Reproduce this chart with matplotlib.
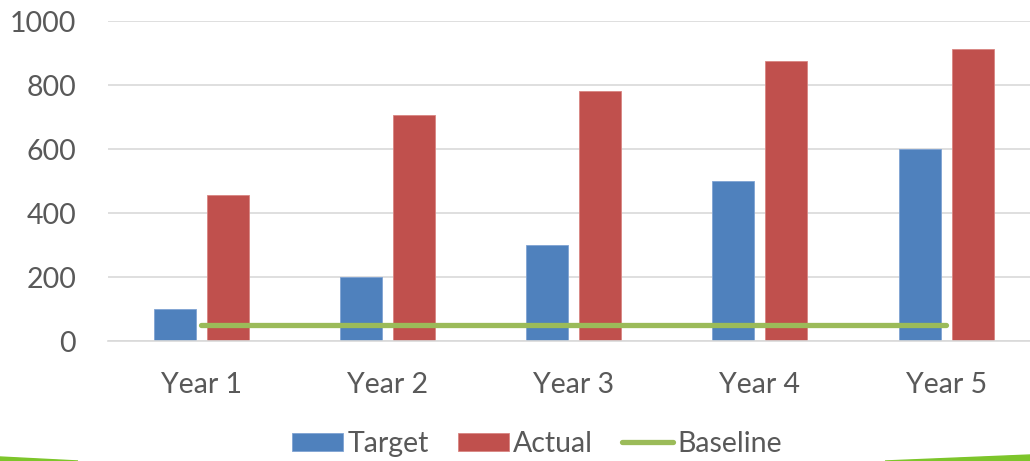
import matplotlib
matplotlib.use("Agg")
import matplotlib.pyplot as plt
import numpy as np
from matplotlib.patches import Polygon

categories = ["Year 1", "Year 2", "Year 3", "Year 4", "Year 5"]
target = [100, 200, 300, 500, 600]
actual = [455, 705, 780, 875, 913]
baseline = [50, 50, 50, 50, 50]
yticks = [0, 200, 400, 600, 800, 1000]

plt.rcParams['font.family'] = ['Lato', 'DejaVu Sans']
TXT = '#595959'

fig = plt.figure(figsize=(10.30, 4.61), dpi=100)
W, H = 1030, 461
left, right = 108, 108 + 5 * 186.25
top, bottom = 21, 341
ax = fig.add_axes([left / W, 1 - bottom / H, (right - left) / W, (bottom - top) / H])

x = np.arange(len(categories))
bw = 0.2255
b1 = ax.bar(x - 0.142, target, width=bw, color='#4F81BD', edgecolor='#7FA3D3', linewidth=0.6, label='Target', zorder=2)
b2 = ax.bar(x + 0.142, actual, width=bw, color='#C0504D', edgecolor='#D98582', linewidth=0.6, label='Actual', zorder=2)
l1, = ax.plot(x, baseline, color='#9BBB59', linewidth=3.8, solid_capstyle='round', label='Baseline', zorder=3)

ax.set_xlim(-0.5, 4.5)
ax.set_ylim(0, 1000)
ax.set_yticks(yticks)
ax.set_xticks(x)
ax.set_xticklabels(categories)
ax.grid(axis='y', color='#D9D9D9', linewidth=1.2, zorder=0)
ax.set_axisbelow(True)
for s in ['top', 'right', 'left']:
    ax.spines[s].set_visible(False)
ax.spines['bottom'].set_color('#D9D9D9')
ax.spines['bottom'].set_linewidth(1.2)
ax.tick_params(axis='both', length=0, labelsize=20.5, colors=TXT)
ax.tick_params(axis='y', pad=23)
ax.tick_params(axis='x', pad=22)

leg = fig.legend([b1, b2, l1], ['Target', 'Actual', 'Baseline'], loc='center',
                 bbox_to_anchor=(537 / W, 1 - 444 / H), ncol=3, frameon=False,
                 fontsize=20.5, handlelength=1.8, handleheight=0.6, handletextpad=0.15,
                 columnspacing=1.0, labelcolor=TXT)

# decorative strips at the bottom corners
fig.patches.append(Polygon([[0, 4 / H], [78 / W, 0], [0, 0]], closed=True,
                           transform=fig.transFigure, color='#7DC52A', zorder=0))
fig.patches.append(Polygon([[1, 6 / H], [885 / W, 0], [1, 0]], closed=True,
                           transform=fig.transFigure, color='#7DC52A', zorder=0))

fig.savefig('out.png', dpi=100)
